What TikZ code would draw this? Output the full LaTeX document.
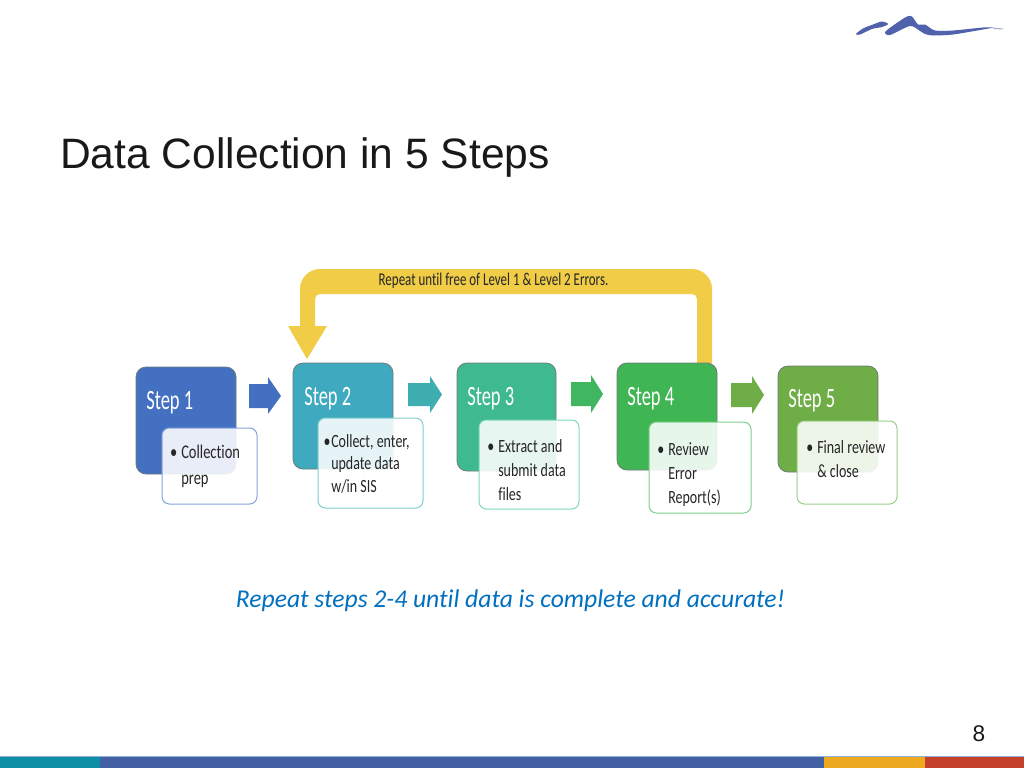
\documentclass[tikz,border=0pt]{standalone}
\usepackage{fontspec}
\setmainfont{Liberation Sans}
\newfontfamily\cfs[FakeStretch=0.66,Ligatures=NoCommon]{Carlito}
\newfontfamily\cf[FakeStretch=0.75,Ligatures=NoCommon]{Carlito}
\newfontfamily\cfy[FakeStretch=0.72,Ligatures=NoCommon]{Carlito}
\newfontfamily\ci[Ligatures=NoCommon]{Carlito}
\definecolor{cA}{HTML}{4470C2}\definecolor{cB}{HTML}{3FAABF}\definecolor{cC}{HTML}{3FB98F}
\definecolor{cD}{HTML}{3FB553}\definecolor{cE}{HTML}{6FAD47}
\definecolor{bA}{HTML}{86A3DC}\definecolor{bB}{HTML}{7FCFCF}\definecolor{bC}{HTML}{7FDAB8}
\definecolor{bD}{HTML}{7FCF8C}\definecolor{bE}{HTML}{9BD08A}
\definecolor{yel}{HTML}{F0CC47}\definecolor{logoc}{HTML}{5062AC}\definecolor{edge}{HTML}{4A5A5A}
\definecolor{fteal}{HTML}{0E8FA6}\definecolor{fblue}{HTML}{4460A5}\definecolor{forange}{HTML}{EDA920}
\definecolor{fred}{HTML}{C4402A}\definecolor{ftop}{HTML}{8FB0D8}\definecolor{notec}{HTML}{0070C0}
\tikzset{
  stepbox/.style={draw=edge!80,line width=0.6pt,rounded corners=7.5pt,inner sep=0pt},
  subbox/.style={line width=0.75pt,rounded corners=5.5pt,fill=white,fill opacity=0.88,inner sep=0pt},
  steplabel/.style={anchor=west,text=white,inner sep=0pt,font=\cfs\fontsize{21}{24}\selectfont},
  sublabel/.style={anchor=north west,align=left,text=black!85,inner sep=0pt},
}
\newcommand\bxn[6]{\pgfmathsetmacro\wA{(#5-#3)*0.75}\pgfmathsetmacro\hA{(#6-#4)*0.75}
  \node[#2,minimum width=\wA pt,minimum height=\hA pt] (#1) at ({(#3+#5)/2},{(#4+#6)/2}) {};}
\newcommand\bul[2][3pt]{\makebox[0pt][r]{•\hspace{#1}}#2}
% block arrow: colour, x-start, x-head, x-tip, shaft top, shaft bottom, head top, head bottom
\newcommand\blk[8]{\fill[#1] (#2,#5) -- (#3,#5) -- (#3,#7) -- (#4,{(#5+#6)/2}) -- (#3,#8) -- (#3,#6) -- (#2,#6) -- cycle;}
\begin{document}
\begin{tikzpicture}[x=0.75pt,y=-0.75pt]
\useasboundingbox (0,0) rectangle (1024,768);
\fill[white] (0,0) rectangle (1024,768);
% footer band
\fill[ftop] (0,755.5) rectangle (1024,757);
\fill[fteal] (0,756.5) rectangle (100,768);
\fill[fblue] (100,756.5) rectangle (824,768);
\fill[forange] (824,756.5) rectangle (925,768);
\fill[fred] (925,756.5) rectangle (1024,768);
% logo
\fill[logoc] plot[smooth cycle,tension=0.5] coordinates {(856,34) (863,28.5) (873,24.5) (882,21.5) (888,24) (882,27) (872,29) (860,34.5)};
\fill[logoc] plot[smooth cycle,tension=0.45] coordinates {(885,32) (896,23.5) (907,16.5) (912,16.5) (918,24.5) (925,24.5) (935,30.5) (953,30.5) (983,27.5) (993,27.5) (983,29.5) (953,34.5) (933,35.5) (925,34) (920,31) (910,26) (890,35)};
\fill[logoc!50] (993,27.5) -- (1003,28.5) -- (1003,29.5) -- (993,29) -- cycle;
\node[anchor=west,inner sep=0pt,font=\fontsize{31.9}{38}\selectfont,text=black!90] (title) at (60,157) {Data Collection in 5 Steps};
% yellow return arrow
\fill[yel] (712,363) -- (712,289) .. controls (712,278) and (703,269) .. (692,269) -- (320,269)
  .. controls (309,269) and (300,278) .. (300,289) -- (300,326) -- (288,326) -- (307,359) -- (327,326) -- (315,326)
  -- (315,299) .. controls (315,296) and (317,294) .. (320,294) -- (692,294) .. controls (695,294) and (697,296) .. (697,299) -- (697,363) -- cycle;
\node[inner sep=0pt,text=black!85,font=\cfy\fontsize{13.5}{15}\selectfont] (repeat) at (493.5,281) {Repeat until free of Level 1 \& Level 2 Errors.};
% main step boxes
\bxn{s1}{stepbox,fill=cA}{136}{367}{236}{474}
\bxn{s2}{stepbox,fill=cB}{293}{363}{393}{469}
\bxn{s3}{stepbox,fill=cC}{457}{363}{556}{471}
\bxn{s4}{stepbox,fill=cD}{617}{363}{717}{470}
\bxn{s5}{stepbox,fill=cE}{778}{366}{878}{472}
\node[steplabel] (t1) at (146,402.5) {Step 1};
\node[steplabel] (t2) at (304,398.5) {Step 2};
\node[steplabel] (t3) at (467,398.5) {Step 3};
\node[steplabel] (t4) at (627,398.5) {Step 4};
\node[steplabel] (t5) at (788,400.5) {Step 5};
% block arrows
\blk{cA}{249}{268}{281}{384}{408}{377}{414}
\blk{cB!70!cC}{408}{430}{442}{383}{406}{376}{413}
\blk{cD!80!cC}{571}{591}{603}{382}{406}{375}{413}
\blk{cE}{731}{752}{764}{383}{407}{376}{414}
% detail boxes
\bxn{d1}{subbox,draw=bA}{162}{428}{257}{504}
\bxn{d2}{subbox,draw=bB}{318}{418}{423}{508}
\bxn{d3}{subbox,draw=bC}{479}{420}{579}{509}
\bxn{d4}{subbox,draw=bD}{649}{422}{751}{513}
\bxn{d5}{subbox,draw=bE}{797}{421}{897}{504}
\node[sublabel,font=\cf\fontsize{14.5}{19.5}\selectfont] (l1) at (181,445) {\bul{Collection}\\prep};
\node[sublabel,font=\cf\fontsize{14}{17}\selectfont] (l2) at (331,434) {\bul[0.5pt]{Collect, enter,}\\update data\\w/in SIS};
\node[sublabel,font=\cf\fontsize{14}{18}\selectfont] (l3) at (498,439) {\bul{Extract and}\\submit data\\files};
\node[sublabel,font=\cf\fontsize{14}{18}\selectfont] (l4) at (668,442) {\bul{Review}\\Error\\Report(s)};
\node[sublabel,font=\cf\fontsize{14}{18}\selectfont] (l5) at (817,440) {\bul{Final review}\\\& close};
% note and page number
\node[inner sep=0pt,text=notec,font=\ci\itshape\fontsize{19.2}{22}\selectfont] (note) at (510.5,601) {Repeat steps 2-4 until data is complete and accurate!};
\node[inner sep=0pt,text=black!90,font=\fontsize{17}{19}\selectfont] (page) at (979,734) {8};
\end{tikzpicture}
\end{document}
